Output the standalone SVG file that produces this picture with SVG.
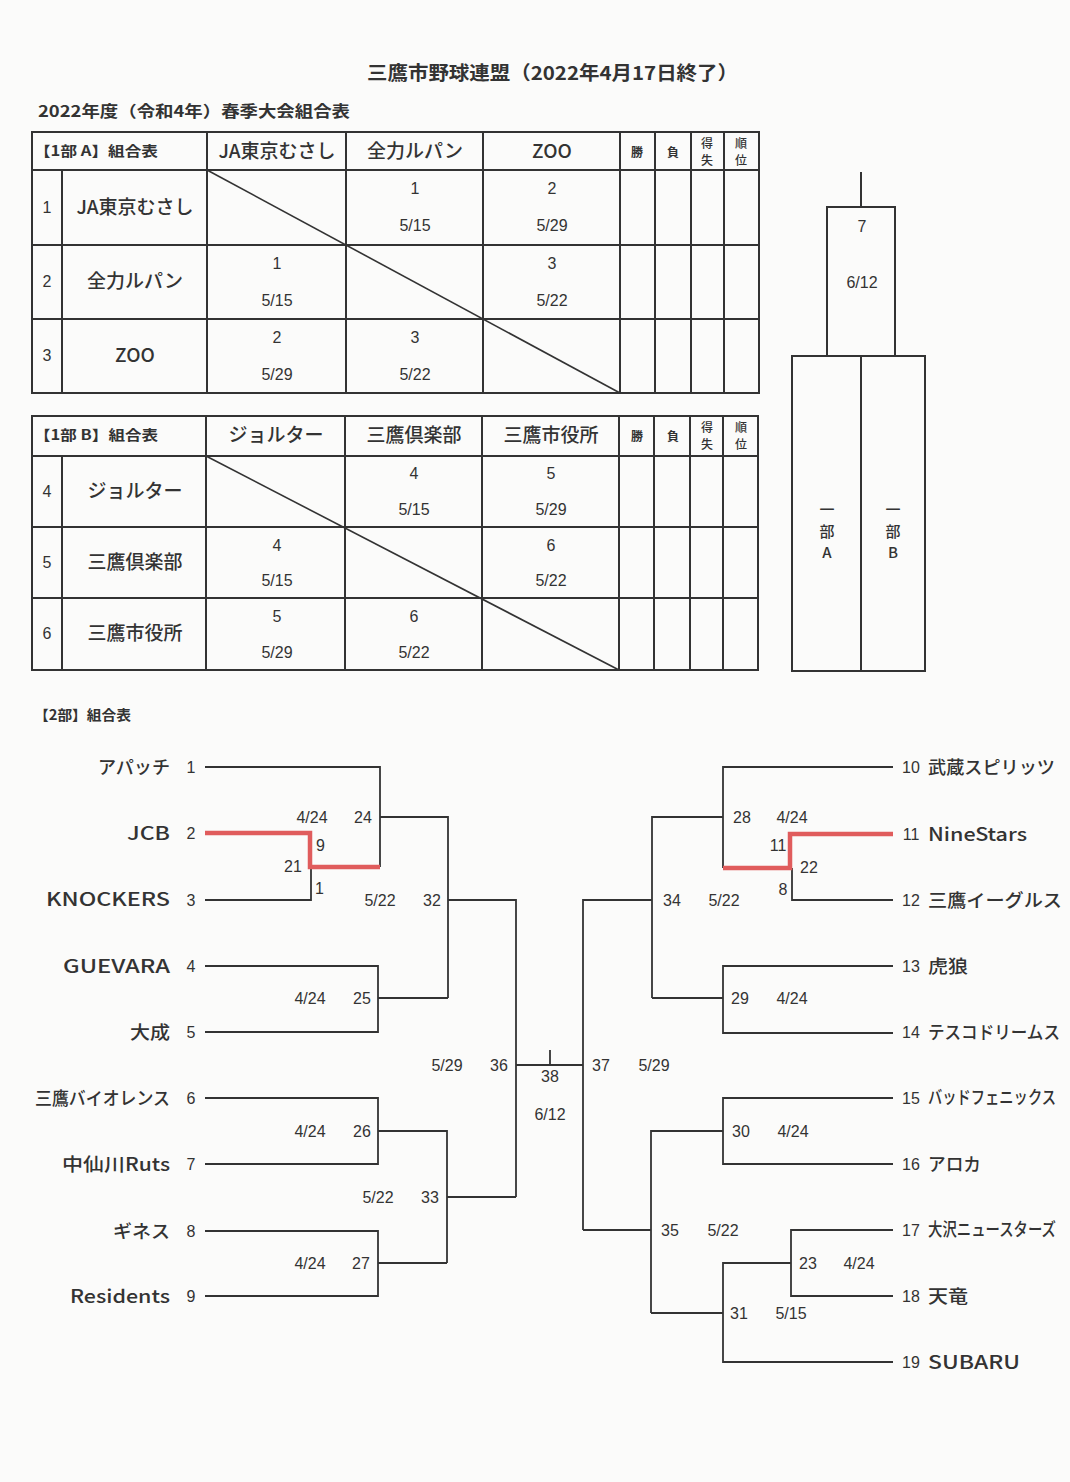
<svg xmlns="http://www.w3.org/2000/svg" width="1070" height="1482" viewBox="0 0 1070 1482">
<style>
.bg{fill:#fbfbfa}
.ln{stroke:#333;stroke-width:1.8;fill:none}
.tb{stroke:#333;stroke-width:2;fill:none}
.dg{stroke:#333;stroke-width:1.6;fill:none}
.red{stroke:#e05c5c;stroke-width:4.5;fill:none;stroke-linejoin:miter}
.j{font-family:"Noto Sans CJK JP","Noto Sans",sans-serif;fill:#333;font-weight:500}
.jb{font-family:"Noto Sans CJK JP","Noto Sans",sans-serif;fill:#333;font-weight:bold}
.n{font-family:"Liberation Sans",Arial,sans-serif;font-size:16px;fill:#333;text-anchor:middle}
.nm{font-family:"Noto Sans CJK JP","Noto Sans",sans-serif;fill:#333;font-size:18px;font-weight:500}
.c{text-anchor:middle}
.r{text-anchor:end}
.s{text-anchor:start}
</style>
<rect class="bg" x="0" y="0" width="1070" height="1482"/>

<g id="title">
<text class="jb" x="367" y="80" font-size="19" textLength="371" lengthAdjust="spacingAndGlyphs">三鷹市野球連盟（2022年4月17日終了）</text>
<text class="jb" x="38" y="117" font-size="16" textLength="312" lengthAdjust="spacingAndGlyphs">2022年度（令和4年）春季大会組合表</text>
</g>

<g id="table-1A">
<rect class="tb" x="32" y="132" width="727" height="261"/>
<path class="tb" d="M32,170H759M32,245H759M32,319H759M62,170V393M207,132V393M346,132V393M483,132V393M620,132V393M655,132V393M691,132V393M724,132V393"/>
<path class="dg" d="M207,170L620,393"/>
<text class="jb" x="34" y="156" font-size="14" textLength="124" lengthAdjust="spacingAndGlyphs">【1部  A】組合表</text>
<text class="j c" x="277" y="158" font-size="19">JA東京むさし</text>
<text class="j c" x="415" y="158" font-size="19">全力ルパン</text>
<text class="j c" x="552" y="158" font-size="19">ZOO</text>
<text class="jb c" x="637" y="157" font-size="12">勝</text>
<text class="jb c" x="673" y="157" font-size="12">負</text>
<text class="j c" x="707" y="148" font-size="12">得</text>
<text class="j c" x="707" y="165" font-size="12">失</text>
<text class="j c" x="741" y="148" font-size="12">順</text>
<text class="j c" x="741" y="165" font-size="12">位</text>
<text class="n" x="47" y="213" font-size="14">1</text>
<text class="j c" x="135" y="214" font-size="19">JA東京むさし</text>
<text class="n" x="47" y="287" font-size="14">2</text>
<text class="j c" x="135" y="288" font-size="19">全力ルパン</text>
<text class="n" x="47" y="361" font-size="14">3</text>
<text class="j c" x="135" y="362" font-size="19">ZOO</text>
<text class="n" x="415" y="194">1</text><text class="n" x="415" y="231">5/15</text>
<text class="n" x="552" y="194">2</text><text class="n" x="552" y="231">5/29</text>
<text class="n" x="277" y="269">1</text><text class="n" x="277" y="306">5/15</text>
<text class="n" x="552" y="269">3</text><text class="n" x="552" y="306">5/22</text>
<text class="n" x="277" y="343">2</text><text class="n" x="277" y="380">5/29</text>
<text class="n" x="415" y="343">3</text><text class="n" x="415" y="380">5/22</text>
</g>

<g id="table-1B">
<rect class="tb" x="32" y="416" width="726" height="254"/>
<path class="tb" d="M32,456H758M32,527H758M32,598H758M62,456V670M206,416V670M345,416V670M482,416V670M619,416V670M654,416V670M690,416V670M723,416V670"/>
<path class="dg" d="M206,456L619,670"/>
<text class="jb" x="34" y="440" font-size="14" textLength="124" lengthAdjust="spacingAndGlyphs">【1部  B】組合表</text>
<text class="j c" x="276" y="442" font-size="19">ジョルター</text>
<text class="j c" x="414" y="442" font-size="19">三鷹倶楽部</text>
<text class="j c" x="551" y="442" font-size="19">三鷹市役所</text>
<text class="jb c" x="637" y="441" font-size="12">勝</text>
<text class="jb c" x="673" y="441" font-size="12">負</text>
<text class="j c" x="707" y="432" font-size="12">得</text>
<text class="j c" x="707" y="449" font-size="12">失</text>
<text class="j c" x="741" y="432" font-size="12">順</text>
<text class="j c" x="741" y="449" font-size="12">位</text>
<text class="n" x="47" y="497" font-size="14">4</text>
<text class="j c" x="135" y="498" font-size="19">ジョルター</text>
<text class="n" x="47" y="568" font-size="14">5</text>
<text class="j c" x="135" y="569" font-size="19">三鷹倶楽部</text>
<text class="n" x="47" y="639" font-size="14">6</text>
<text class="j c" x="135" y="640" font-size="19">三鷹市役所</text>
<text class="n" x="414" y="479">4</text><text class="n" x="414" y="515">5/15</text>
<text class="n" x="551" y="479">5</text><text class="n" x="551" y="515">5/29</text>
<text class="n" x="277" y="551">4</text><text class="n" x="277" y="586">5/15</text>
<text class="n" x="551" y="551">6</text><text class="n" x="551" y="586">5/22</text>
<text class="n" x="277" y="622">5</text><text class="n" x="277" y="658">5/29</text>
<text class="n" x="414" y="622">6</text><text class="n" x="414" y="658">5/22</text>
</g>

<g id="final-1">
<path class="tb" d="M861,172V207"/>
<rect class="tb" x="827" y="207" width="68" height="149"/>
<rect class="tb" x="792" y="356" width="133" height="315"/>
<path class="tb" d="M861,356V671"/>
<text class="n" x="862" y="232">7</text>
<text class="n" x="862" y="288">6/12</text>
<text class="j c" x="827" y="515" font-size="15">一</text>
<text class="j c" x="827" y="537" font-size="15">部</text>
<text class="j c" x="827" y="558" font-size="15">A</text>
<text class="j c" x="893" y="515" font-size="15">一</text>
<text class="j c" x="893" y="537" font-size="15">部</text>
<text class="j c" x="893" y="558" font-size="15">B</text>
</g>

<g id="section-2">
<text class="jb" x="34" y="720" font-size="14" textLength="97" lengthAdjust="spacingAndGlyphs">【2部】組合表</text>
</g>

<g id="connectors">
<path class="ln" d="M205,767H380V867M380,817H448V998M205,900H311V867M205,966H378V1032H205M378,998H448M448,900H516V1197M205,1098H378V1164H205M378,1131H447V1263M205,1231H378V1296H205M378,1263H447M447,1197H516M516,1065H583M550,1050V1065"/>
<path class="ln" d="M893,767H723V868M723,817H652V998M893,900H792V868M893,966H723V1033H893M723,998H652M652,900H583V1230M893,1098H723V1164H893M723,1131H651V1313M583,1230H651M893,1230H791V1296H893M791,1263H723V1362H893M723,1313H651"/>
<path class="red" d="M205,833H310V867H380"/>
<path class="red" d="M893,834H790V868H723"/>
</g>

<g id="match-labels">
<text class="n" x="312" y="823">4/24</text><text class="n" x="363" y="823">24</text>
<text class="n s" x="316" y="851">9</text>
<text class="n" x="293" y="872">21</text>
<text class="n s" x="315" y="894" font-size="13">1</text>
<text class="n" x="380" y="906">5/22</text><text class="n" x="432" y="906">32</text>
<text class="n" x="310" y="1004">4/24</text><text class="n" x="362" y="1004">25</text>
<text class="n" x="447" y="1071">5/29</text><text class="n" x="499" y="1071">36</text>
<text class="n" x="310" y="1137">4/24</text><text class="n" x="362" y="1137">26</text>
<text class="n" x="378" y="1203">5/22</text><text class="n" x="430" y="1203">33</text>
<text class="n" x="310" y="1269">4/24</text><text class="n" x="361" y="1269">27</text>
<text class="n" x="550" y="1082">38</text>
<text class="n" x="550" y="1120">6/12</text>
<text class="n" x="601" y="1071">37</text><text class="n" x="654" y="1071">5/29</text>
<text class="n" x="742" y="823">28</text><text class="n" x="792" y="823">4/24</text>
<text class="n" x="778" y="851">11</text>
<text class="n" x="809" y="873">22</text>
<text class="n" x="783" y="895">8</text>
<text class="n" x="672" y="906">34</text><text class="n" x="724" y="906">5/22</text>
<text class="n" x="740" y="1004">29</text><text class="n" x="792" y="1004">4/24</text>
<text class="n" x="741" y="1137">30</text><text class="n" x="793" y="1137">4/24</text>
<text class="n" x="670" y="1236">35</text><text class="n" x="723" y="1236">5/22</text>
<text class="n" x="808" y="1269">23</text><text class="n" x="859" y="1269">4/24</text>
<text class="n" x="739" y="1319">31</text><text class="n" x="791" y="1319">5/15</text>
</g>

<g id="team-1"><text class="nm r" x="170" y="774" textLength="72" lengthAdjust="spacingAndGlyphs">アパッチ</text><text class="n" x="191" y="773">1</text></g>
<g id="team-2"><text class="nm r" x="170" y="840" textLength="43" lengthAdjust="spacingAndGlyphs">JCB</text><text class="n" x="191" y="839">2</text></g>
<g id="team-3"><text class="nm r" x="170" y="906" textLength="124" lengthAdjust="spacingAndGlyphs">KNOCKERS</text><text class="n" x="191" y="906">3</text></g>
<g id="team-4"><text class="nm r" x="170" y="973" textLength="107" lengthAdjust="spacingAndGlyphs">GUEVARA</text><text class="n" x="191" y="972">4</text></g>
<g id="team-5"><text class="nm r" x="170" y="1039" textLength="40" lengthAdjust="spacingAndGlyphs">大成</text><text class="n" x="191" y="1038">5</text></g>
<g id="team-6"><text class="nm r" x="170" y="1105" textLength="135" lengthAdjust="spacingAndGlyphs">三鷹バイオレンス</text><text class="n" x="191" y="1104">6</text></g>
<g id="team-7"><text class="nm r" x="170" y="1171" textLength="108" lengthAdjust="spacingAndGlyphs">中仙川Ruts</text><text class="n" x="191" y="1170">7</text></g>
<g id="team-8"><text class="nm r" x="170" y="1238" textLength="57" lengthAdjust="spacingAndGlyphs">ギネス</text><text class="n" x="191" y="1237">8</text></g>
<g id="team-9"><text class="nm r" x="170" y="1303" textLength="100" lengthAdjust="spacingAndGlyphs">Residents</text><text class="n" x="191" y="1302">9</text></g>

<g id="team-10"><text class="n" x="911" y="773">10</text><text class="nm" x="928" y="774" textLength="127" lengthAdjust="spacingAndGlyphs">武蔵スピリッツ</text></g>
<g id="team-11"><text class="n" x="911" y="840">11</text><text class="nm" x="928" y="841" textLength="99" lengthAdjust="spacingAndGlyphs">NineStars</text></g>
<g id="team-12"><text class="n" x="911" y="906">12</text><text class="nm" x="928" y="907" textLength="134" lengthAdjust="spacingAndGlyphs">三鷹イーグルス</text></g>
<g id="team-13"><text class="n" x="911" y="972">13</text><text class="nm" x="928" y="973" textLength="40" lengthAdjust="spacingAndGlyphs">虎狼</text></g>
<g id="team-14"><text class="n" x="911" y="1038">14</text><text class="nm" x="928" y="1039" font-size="16.5" textLength="132" lengthAdjust="spacingAndGlyphs">テスコドリームス</text></g>
<g id="team-15"><text class="n" x="911" y="1104">15</text><text class="nm" x="928" y="1104" font-size="13" textLength="128" lengthAdjust="spacingAndGlyphs">バッドフェニックス</text></g>
<g id="team-16"><text class="n" x="911" y="1170">16</text><text class="nm" x="928" y="1171" textLength="53" lengthAdjust="spacingAndGlyphs">アロカ</text></g>
<g id="team-17"><text class="n" x="911" y="1236">17</text><text class="nm" x="928" y="1236" font-size="13" textLength="128" lengthAdjust="spacingAndGlyphs">大沢ニュースターズ</text></g>
<g id="team-18"><text class="n" x="911" y="1302">18</text><text class="nm" x="928" y="1303" textLength="40" lengthAdjust="spacingAndGlyphs">天竜</text></g>
<g id="team-19"><text class="n" x="911" y="1368">19</text><text class="nm" x="928" y="1369" textLength="92" lengthAdjust="spacingAndGlyphs">SUBARU</text></g>
</svg>
